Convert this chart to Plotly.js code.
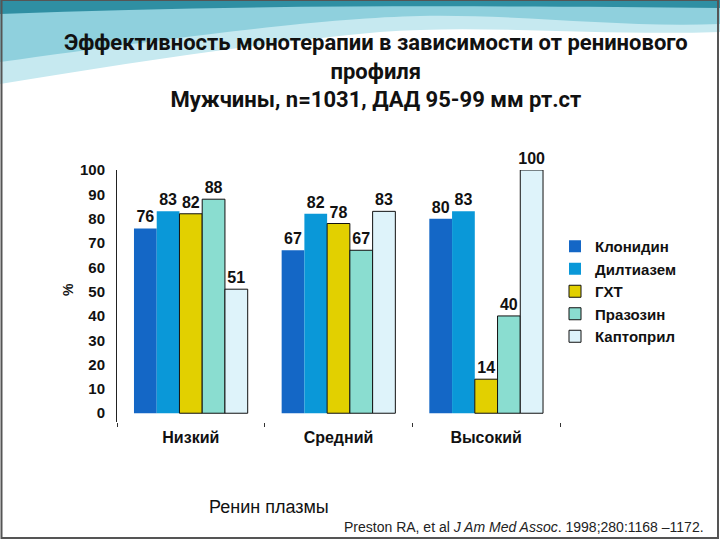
<!DOCTYPE html>
<html>
<head>
<meta charset="utf-8">
<script src="https://cdn.plot.ly/plotly-3.0.1.min.js"></script>
<style>
  body { margin: 0; background: #fff; }
  #plot { width: 720px; height: 540px; }
</style>
</head>
<body>
<div id="plot"></div>
<script>
// renin profile groups
var groups = ['Низкий', 'Средний', 'Высокий'];

// response rate, % by drug
var klonidin = [76, 67, 80];
var diltiazem = [83, 82, 83];
var hxt = [82, 78, 14];
var prazozin = [88, 67, 40];
var kaptopril = [51, 83, 100];

var names = ['Клонидин', 'Дилтиазем', 'ГХТ', 'Празозин', 'Каптоприл'];
var colors = ['#1467c6', '#0a98d8', '#e2d000', '#8addd0', '#def3fa'];
var outlines = ['#1467c6', '#0b6fa8', '#111', '#111', '#111'];

var series = [klonidin, diltiazem, hxt, prazozin, kaptopril];

var data = series.map(function (vals, i) {
  return {
    x: groups,
    y: vals,
    name: names[i],
    type: 'bar',
    text: vals.map(String),
    textposition: 'outside',
    constraintext: 'none',
    cliponaxis: false,
    textfont: { family: 'Liberation Sans, Arial', size: 16, color: '#111', weight: 'bold' },
    marker: { color: colors[i], line: { color: outlines[i], width: i < 2 ? 0 : 1 } }
  };
});

// pixel -> paper helper for the slide decoration
var L = 117, R = 560, T = 170, B = 422;
function px(x, y) { return ((x - L) / (R - L)).toFixed(4) + ',' + ((B - y) / (B - T)).toFixed(4); }

var waveLight = 'M' + px(0, 0) + ' L' + px(720, 0) + ' L' + px(720, 32) +
  ' C' + px(600, 36) + ' ' + px(480, 24) + ' ' + px(380, 32) +
  ' C' + px(250, 44) + ' ' + px(120, 64) + ' ' + px(0, 84) + ' Z';
var waveMid = 'M' + px(0, 0) + ' L' + px(720, 0) + ' L' + px(720, 24) +
  ' C' + px(620, 28) + ' ' + px(520, 14) + ' ' + px(420, 16) +
  ' C' + px(330, 18) + ' ' + px(200, 34) + ' ' + px(0, 62) + ' Z';
var waveDark = 'M' + px(0, 0) + ' L' + px(720, 0) + ' L' + px(720, 8) +
  ' C' + px(500, 6) + ' ' + px(250, 4) + ' ' + px(0, 14) + ' Z';

var layout = {
  width: 720,
  height: 540,
  margin: { l: L, r: 720 - R, t: T, b: 540 - B },
  paper_bgcolor: '#ffffff',
  plot_bgcolor: 'rgba(0,0,0,0)',
  showlegend: true,
  barmode: 'group',
  bargap: 0.23,
  bargroupgap: 0,
  font: { family: 'Liberation Sans, Arial', color: '#111' },
  title: {
    text: 'Эффективность монотерапии в зависимости от ренинового<br>профиля<br>Мужчины, n=1031, ДАД 95-99 мм рт.ст',
    font: { family: 'Roboto, sans-serif', size: 22, color: '#111', weight: 'bold' },
    x: 0.522, xanchor: 'center',
    y: 0.907, yanchor: 'middle'
  },
  xaxis: {
    type: 'category',
    range: [-0.5, 2.5],
    showline: false,
    showgrid: false,
    zeroline: false,
    tickson: 'boundaries',
    ticks: 'outside',
    ticklen: 4,
    tickcolor: '#333',
    ticklabelstandoff: 4,
    tickfont: { family: 'Liberation Sans, Arial', size: 16, color: '#111', weight: 'bold' }
  },
  yaxis: {
    range: [-3.6, 100],
    tickvals: [0, 10, 20, 30, 40, 50, 60, 70, 80, 90, 100],
    showline: true,
    linecolor: '#222',
    linewidth: 1,
    showgrid: false,
    zeroline: false,
    ticks: '',
    ticklabelstandoff: 8,
    tickfont: { family: 'Liberation Sans, Arial', size: 15, color: '#111', weight: 'bold' }
  },
  legend: {
    x: (555 - L) / (R - L), xanchor: 'left',
    y: (B - 230) / (B - T), yanchor: 'top',
    itemwidth: 30,
    tracegroupgap: 0,
    font: { family: 'Liberation Sans, Arial', size: 15, color: '#111', weight: 'bold' },
    bgcolor: 'rgba(0,0,0,0)'
  },
  shapes: [
    { type: 'path', xref: 'paper', yref: 'paper', path: waveLight, fillcolor: '#c6e9f0', line: { width: 0 }, layer: 'below' },
    { type: 'path', xref: 'paper', yref: 'paper', path: waveMid, fillcolor: '#8fd0dd', line: { width: 0 }, layer: 'below' },
    { type: 'path', xref: 'paper', yref: 'paper', path: waveDark, fillcolor: '#2f8fa3', line: { width: 0 }, layer: 'below' },
    { type: 'rect', xref: 'paper', yref: 'paper',
      x0: (1.5 - L) / (R - L), x1: (718 - L) / (R - L),
      y0: (B - 538) / (B - T), y1: (B - 0) / (B - T),
      line: { color: '#555', width: 2 }, layer: 'below' }
  ],
  annotations: [
    { text: '%', xref: 'paper', yref: 'paper', x: (58 - L) / (R - L), y: (B - 290) / (B - T),
      showarrow: false, textangle: -90, font: { size: 14, color: '#111', weight: 'bold' } },
    { text: 'Ренин плазмы', xref: 'paper', yref: 'paper', x: (207 - L) / (R - L), xanchor: 'left',
      y: (B - 507) / (B - T), yanchor: 'middle', showarrow: false,
      font: { size: 18, color: '#111' } },
    { text: 'Preston RA, et al <i>J Am Med Assoc</i>. 1998;280:1168 –1172.', xref: 'paper', yref: 'paper',
      x: (706 - L) / (R - L), xanchor: 'right', y: (B - 527) / (B - T), yanchor: 'middle',
      showarrow: false, font: { size: 14, color: '#222' } }
  ]
};

Plotly.newPlot('plot', data, layout, { displayModeBar: false });
</script>
</body>
</html>
